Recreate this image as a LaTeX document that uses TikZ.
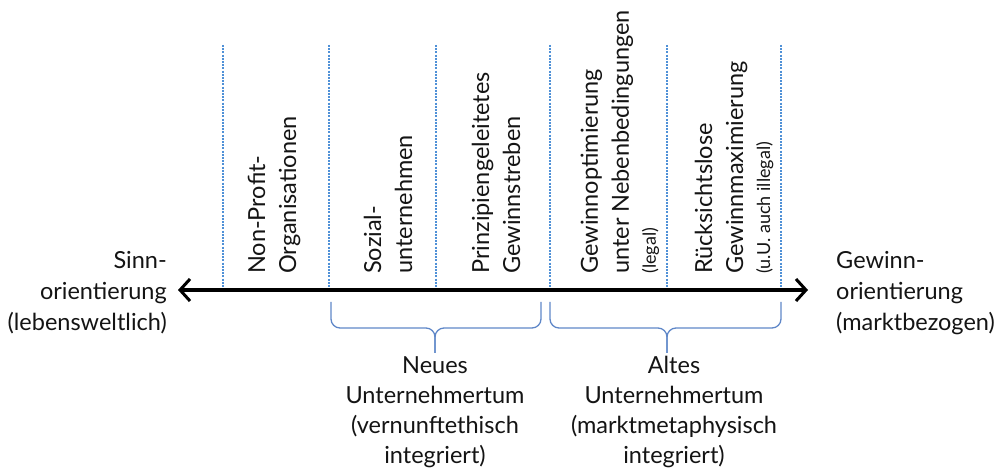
\documentclass[tikz,border=0pt]{standalone}
\usepackage{fontspec}
\setmainfont{Lato}
\usetikzlibrary{arrows.meta}
\definecolor{sepblue}{RGB}{80,145,215}
\definecolor{braceblue}{RGB}{95,135,200}
\definecolor{txt}{RGB}{20,20,20}
\begin{document}
\begin{tikzpicture}[x=1pt,y=-1pt,
  every node/.style={inner sep=0pt,text=txt},
  bigtext/.style={font=\fontsize{23.5}{31}\selectfont},
  grptext/.style={font=\fontsize{23.5}{30}\selectfont},
  smalltext/.style={font=\fontsize{18}{31}\selectfont},
  coltext/.style={bigtext,rotate=90,anchor=west,align=left},
  sepline/.style={sepblue,line width=1.3pt,dash pattern=on 2pt off 1.2pt},
  bracestyle/.style={braceblue,line width=1.3pt,rounded corners=9pt},
  axis/.style={line width=3.5pt,{Straight Barb[length=10pt,width=22pt,line width=3pt]}-{Straight Barb[length=10pt,width=22pt,line width=3pt]}}]
\useasboundingbox (0,0) rectangle (997,470);
% separator lines
\foreach \n/\x in {s1/223,s2/329,s3/436,s4/550,s5/667,s6/781}{
  \coordinate (\n top) at (\x,45);
  \coordinate (\n bot) at (\x,290);
  \draw[sepline] (\n top) -- (\n bot);
}
% axis
\coordinate (aL) at (178,290);
\coordinate (aR) at (808,290);
\draw[axis] (aL) -- (aR);
% end labels
\node[bigtext,align=right,anchor=east] (left) at (167,293) {Sinn-\\orientierung\\(lebensweltlich)};
\node[bigtext,align=left,anchor=west] (right) at (836,293) {Gewinn-\\orientierung\\(marktbezogen)};
% column texts
\node[coltext] (c1) at (274,274) {Non-Profit-\\Organisationen};
\node[coltext] (c2) at (388,274) {Sozial-\\unternehmen};
\node[coltext] (c3) at (496,274) {Prinzipiengeleitetes\\Gewinnstreben};
\node[coltext] (c4) at (620,274) {Gewinnoptimierung\\unter Nebenbedingungen\\[-4pt]{\fontsize{18}{31}\selectfont (legal)}};
\node[coltext] (c5) at (734,274) {Rücksichtslose\\Gewinnmaximierung\\[-4pt]{\fontsize{18}{31}\selectfont (u.U. auch illegal)}};
% braces
\coordinate (b1l) at (331,302); \coordinate (b1r) at (541,302);
\coordinate (b1m) at (435,328); \coordinate (b1t) at (435,353);
\draw[bracestyle] (b1l) -- (b1l |- b1m) -- (b1m) -- (b1t);
\draw[bracestyle] (b1r) -- (b1r |- b1m) -- (b1m) -- (b1t);
\coordinate (b2l) at (550,302); \coordinate (b2r) at (781,302);
\coordinate (b2m) at (667,328); \coordinate (b2t) at (667,353);
\draw[bracestyle] (b2l) -- (b2l |- b2m) -- (b2m) -- (b2t);
\draw[bracestyle] (b2r) -- (b2r |- b2m) -- (b2m) -- (b2t);
% group labels
\node[grptext,align=center,anchor=north] (g1) at (435,356) {Neues\\Unternehmertum\\(vernunftethisch\\integriert)};
\node[grptext,align=center,anchor=north] (g2) at (674,356) {Altes\\Unternehmertum\\(marktmetaphysisch\\integriert)};
\end{tikzpicture}
\end{document}
